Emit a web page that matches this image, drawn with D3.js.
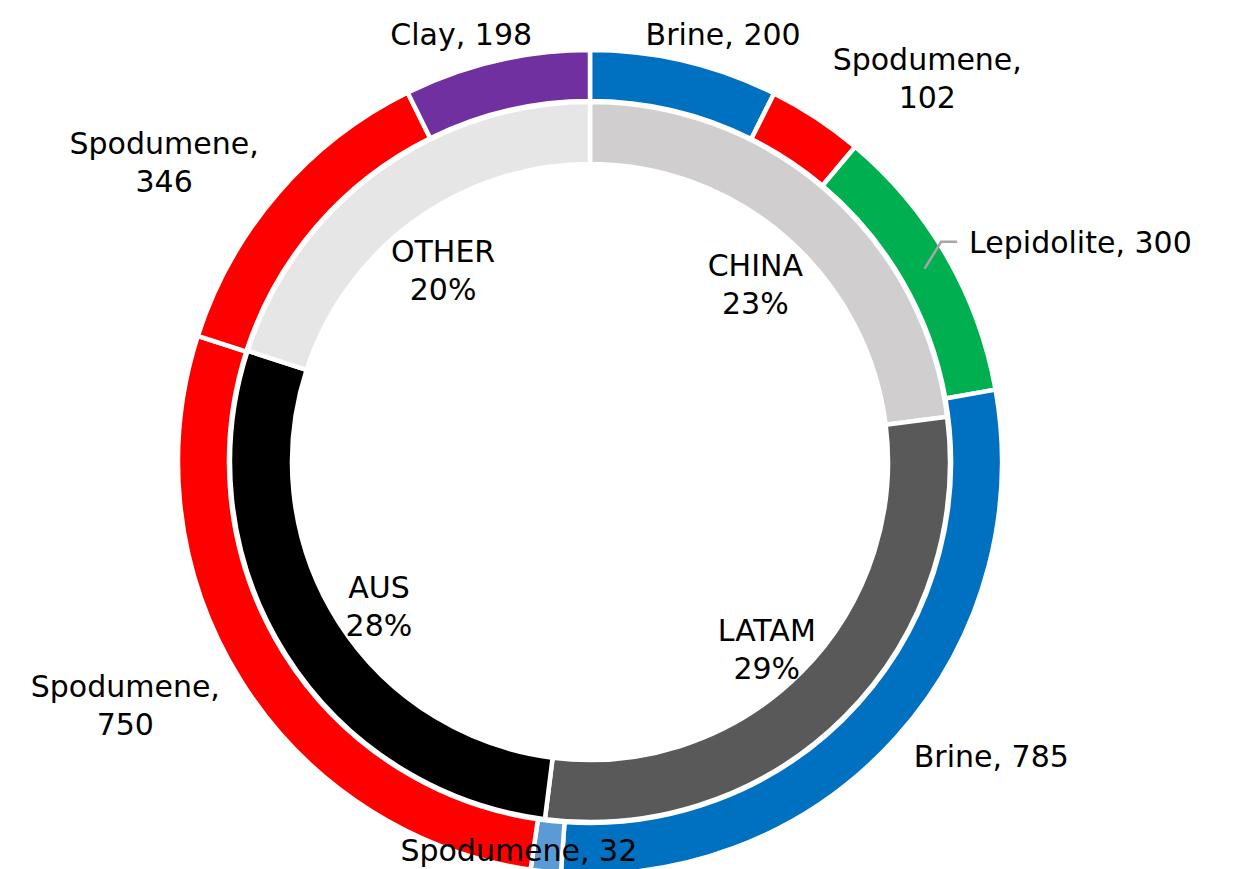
<!DOCTYPE html>
<html lang="en">
<head>
<meta charset="UTF-8">
<title>Lithium supply by region and source</title>
<script src="https://d3js.org/d3.v7.min.js"></script>
<style>
  body { margin: 0; background: #fff; }
  svg text { font-family: "DejaVu Sans", sans-serif; font-size: 30px; fill: #000; }
</style>
</head>
<body>
<svg width="1242" height="869"></svg>
<script>
// outer ring: source type by region (kt LCE)
const sources = ['Brine', 'Spodumene', 'Lepidolite', 'Brine', 'Spodumene', 'Spodumene', 'Spodumene', 'Clay'];
const sourceValues = [200, 102, 300, 785, 32, 750, 346, 198];

// inner ring: region share (%)
const regions = ['CHINA', 'LATAM', 'AUS', 'OTHER'];
const regionShares = [23, 29, 28, 20];

// colours
const sourceColors = ['#0070C0', '#FF0000', '#00B050', '#0070C0', '#5B9BD5', '#FF0000', '#FF0000', '#7030A0'];
const regionColors = ['#D0CECE', '#595959', '#000000', '#E7E6E6'];

const svg = d3.select('svg');
const width = +svg.attr('width');
const height = +svg.attr('height');
const cx = 590, cy = 462;
const lineH = 38;

const outerData = sources.map((s, i) => ({ name: s, value: sourceValues[i], color: sourceColors[i] }));
const innerData = regions.map((r, i) => ({ name: r, value: regionShares[i], color: regionColors[i] }));

const pie = d3.pie().sort(null).value(d => d.value);
const outerArc = d3.arc().innerRadius(361).outerRadius(412);
const innerArc = d3.arc().innerRadius(298).outerRadius(360);
const innerLabelArc = d3.arc().innerRadius(250).outerRadius(250);

const g = svg.append('g').attr('transform', `translate(${cx},${cy})`);

const outerArcs = pie(outerData);
const innerArcs = pie(innerData);

g.selectAll('path.inner')
    .data(innerArcs)
    .join('path')
    .attr('class', 'inner')
    .attr('d', innerArc)
    .attr('fill', d => d.data.color)
    .attr('stroke', '#fff')
    .attr('stroke-width', 4.5);

g.selectAll('path.outer')
    .data(outerArcs)
    .join('path')
    .attr('class', 'outer')
    .attr('d', outerArc)
    .attr('fill', d => d.data.color)
    .attr('stroke', '#fff')
    .attr('stroke-width', 4.5);

// inner labels: region + share
innerArcs.forEach(d => {
    const [x, y] = innerLabelArc.centroid(d);
    const t = g.append('text').attr('text-anchor', 'middle')
        .attr('transform', `translate(${x},${y + 10 - lineH / 2 + 11})`);
    t.append('tspan').attr('x', 0).text(d.data.name);
    t.append('tspan').attr('x', 0).attr('dy', lineH).text(d.data.value + '%');
});

// outer labels, placed just outside the ring, wrapped when too long
const labelR = 425;
const leaderFor = ['Lepidolite'];
outerArcs.forEach(d => {
    const full = `${d.data.name}, ${d.data.value}`;
    const t = g.append('text').attr('text-anchor', 'middle').text(full);
    let lines = [full];
    if (t.node().getComputedTextLength() > 240) lines = [d.data.name + ',', String(d.data.value)];
    t.text(null);
    lines.forEach((s, k) => t.append('tspan').attr('x', 0).attr('dy', k ? lineH : 0).text(s));

    const w = t.node().getBBox().width;
    const h = lines.length * lineH - 8;
    const a = (d.startAngle + d.endAngle) / 2;
    const x = labelR * Math.sin(a) + w / 2 * Math.max(-1.1, Math.min(1.1, 2 * Math.sin(a)));
    let y = -labelR * Math.cos(a) - h / 2 * Math.cos(a);
    y = Math.min(y, height - cy - h / 2 - 4);
    t.attr('transform', `translate(${x},${y - (lines.length - 1) * lineH / 2 + 11})`);

    if (leaderFor.includes(d.data.name)) {
        const [sx, sy] = outerArc.centroid(d);
        const left = x - w / 2;
        g.insert('path', 'text')
            .attr('d', `M${sx},${sy}L${left - 28},${y}L${left - 12},${y}`)
            .attr('fill', 'none')
            .attr('stroke', '#A6A6A6')
            .attr('stroke-width', 2.5);
    }
});
</script>
</body>
</html>
